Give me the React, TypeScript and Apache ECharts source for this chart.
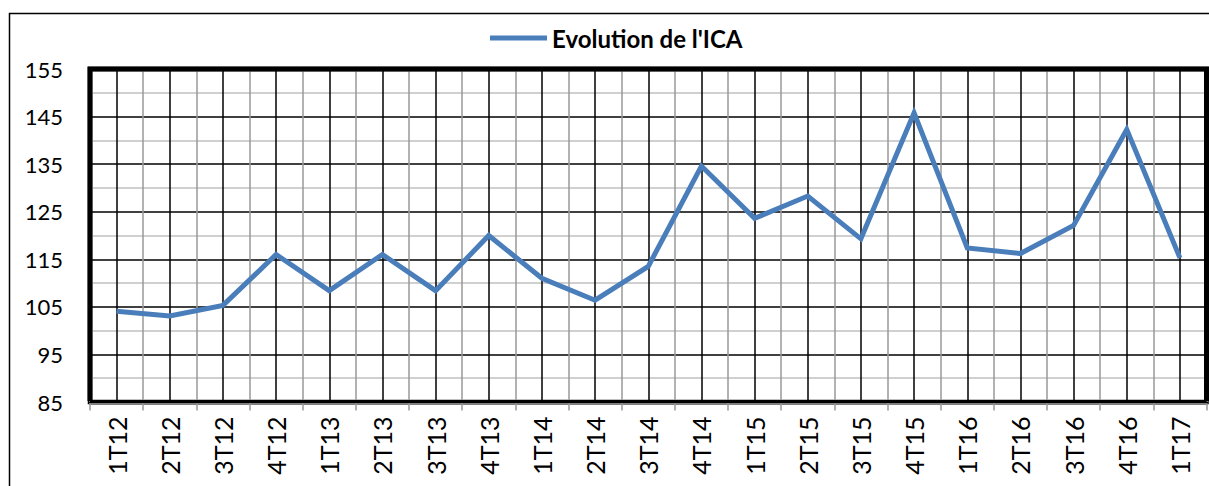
import React, { useEffect, useRef } from "react";
import * as echarts from "echarts";

const categories = [
  "1T12", "2T12", "3T12", "4T12",
  "1T13", "2T13", "3T13", "4T13",
  "1T14", "2T14", "3T14", "4T14",
  "1T15", "2T15", "3T15", "4T15",
  "1T16", "2T16", "3T16", "4T16",
  "1T17",
];
const icaValues = [
  104.1, 103.1, 105.3, 116.0,
  108.4, 116.0, 108.4, 120.0,
  111.0, 106.4, 113.5, 134.6,
  123.6, 128.3, 119.3, 145.8,
  117.4, 116.2, 122.1, 142.3,
  115.3,
];
const seriesName = "Evolution de l'ICA";
const yMin = 85;
const yMax = 155;
const yStep = 10;

const FONT = "Lato, 'Noto Sans', sans-serif";

export default function App() {
  const ref = useRef<HTMLDivElement>(null);
  useEffect(() => {
    if (!ref.current) return;
    const chart = echarts.init(ref.current, null, { renderer: "svg" });
    const halfCount = categories.length * 2;
    chart.setOption({
      animation: false,
      backgroundColor: "#fff",
      textStyle: { fontFamily: FONT },
      graphic: [
        {
          id: "frame",
          type: "rect",
          shape: { x: 9.5, y: 13.5, width: 1400, height: 700 },
          style: { fill: "none", stroke: "#000", lineWidth: 1.5 },
          silent: true,
          z: -1,
        },
      ],
      legend: {
        show: true,
        left: 490,
        top: 26,
        padding: 0,
        itemWidth: 57,
        itemHeight: 14,
        itemGap: 10,
        textStyle: { fontFamily: FONT, fontWeight: "bold", fontSize: 24, color: "#000" },
        data: [{ name: seriesName, icon: "path://M0,0 L57,0 L57,5 L0,5 Z" }],
      },
      grid: {
        left: 90,
        top: 69,
        right: 2.5,
        bottom: 84,
        containLabel: false,
        show: true,
        borderColor: "#000",
        borderWidth: 4.5,
        backgroundColor: "rgba(0,0,0,0)",
      },
      xAxis: [
        {
          type: "category",
          data: categories,
          position: "bottom",
          boundaryGap: true,
          offset: 1.5,
          axisLine: { show: true, lineStyle: { color: "#808080", width: 2 } },
          axisTick: { show: true, length: 7, lineStyle: { color: "#999", width: 1.5 } },
          axisLabel: {
            rotate: 90,
            margin: 13,
            color: "#000",
            fontSize: 25,
            fontFamily: FONT,
            interval: 0,
          },
          splitLine: { show: true, lineStyle: { color: "#999", width: 1.5 } },
          z: 3,
        },
        {
          type: "value",
          position: "top",
          min: 0,
          max: halfCount,
          interval: 1,
          axisLine: { show: false },
          axisTick: { show: false },
          axisLabel: { show: false },
          splitLine: {
            show: true,
            showMinLine: true,
            showMaxLine: true,
            lineStyle: { color: ["rgba(0,0,0,0)", "#000"], width: 1.5 },
          },
        },
      ],
      yAxis: [
        {
          type: "value",
          min: yMin,
          max: yMax,
          interval: yStep,
          position: "left",
          axisLine: { show: false },
          axisTick: { show: false },
          axisLabel: { color: "#000", fontSize: 22, fontFamily: FONT, margin: 27 },
          splitLine: { show: true, lineStyle: { color: "#000", width: 1.5 } },
          minorTick: { show: false, splitNumber: 2 },
          minorSplitLine: { show: true, lineStyle: { color: "#c0c0c0", width: 1.5 } },
        },
      ],
      series: [
        {
          name: seriesName,
          type: "line",
          xAxisIndex: 0,
          yAxisIndex: 0,
          data: icaValues,
          symbol: "none",
          lineStyle: { color: "#4a7ebb", width: 5, join: "miter" },
          itemStyle: { color: "#4a7ebb" },
          z: 5,
        },
      ],
    });

    // Thick plot-area border on left, top and right, derived from the grid's rect
    try {
      const grid = (chart as any).getModel().getComponent("grid", 0);
      const r = grid.coordinateSystem.getRect();
      const x0 = r.x, y0 = r.y, x1 = r.x + r.width, y1 = r.y + r.height;
      chart.setOption({
        graphic: [
          {
            id: "plotBorder",
            type: "polyline",
            shape: { points: [[x0, y1 - 1], [x0, y0], [x1, y0], [x1, y1 - 1]] },
            style: { fill: "none", stroke: "#000", lineWidth: 5, lineJoin: "miter" },
            silent: true,
            z: 4,
          },
          {
            id: "plotBottom",
            type: "line",
            shape: { x1: x0, y1: y1 - 1, x2: x1, y2: y1 - 1 },
            style: { stroke: "#000", lineWidth: 2 },
            silent: true,
            z: 4,
          },
        ],
      });
    } catch (e) {
      // ignore
    }
    return () => chart.dispose();
  }, []);
  return (
    <div
      ref={ref}
      style={{ position: "fixed", left: 0, top: 0, width: 1209, height: 486 }}
    />
  );
}
